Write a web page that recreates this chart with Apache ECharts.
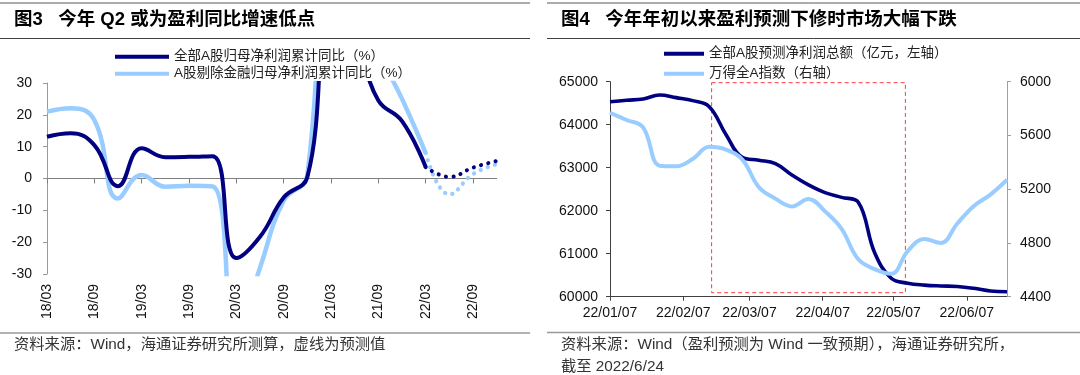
<!DOCTYPE html>
<html>
<head>
<meta charset="utf-8">
<script src="https://cdn.jsdelivr.net/npm/echarts@6/dist/echarts.min.js"></script>
<style>
html,body{margin:0;padding:0;background:#fff;}
#c{width:1080px;height:375px;}
</style>
</head>
<body>
<div id="c"></div>
<script>
// ---------- Figure 3 data (quarterly, cumulative YoY %) ----------
const quarters = ['18/03','18/06','18/09','18/12','19/03','19/06','19/09','19/12',
                  '20/03','20/06','20/09','20/12','21/03','21/06','21/09','21/12',
                  '22/03','22/06','22/09','22/12'];
const allAYoY      = [13.1,14.2,10.5,-2.4,9.5,6.7,6.8,7.0,-25.0,-18.3,-6.0,0.5,50,43,24.5,18,3.6,null,null,null];
const allAForecast = [null,null,null,null,null,null,null,null,null,null,null,null,null,null,null,null,3.6,0.5,3.4,5.5];
const exFinYoY      = [21.0,22.1,18.4,-6.3,1.1,-2.6,-2.3,-2.5,-50,-28,-7,1.0,110,60,40,25,8.0,null,null,null];
const exFinForecast = [null,null,null,null,null,null,null,null,null,null,null,null,null,null,null,null,8.0,-5.0,1.4,4.5];

// ---------- Figure 4 data (weekly) ----------
const weekDates = ['2022-01-07','2022-01-14','2022-01-21','2022-01-28','2022-02-04','2022-02-11','2022-02-18',
                   '2022-02-25','2022-03-04','2022-03-11','2022-03-18','2022-03-25','2022-04-01','2022-04-08',
                   '2022-04-15','2022-04-22','2022-04-29','2022-05-06','2022-05-13','2022-05-20','2022-05-27',
                   '2022-06-03','2022-06-10','2022-06-17','2022-06-24'];
const profitForecast = [64535,64570,64598,64690,64630,64560,64420,63780,63240,63175,63095,62830,62600,
                        62420,62310,62200,61020,60430,60315,60270,60250,60238,60195,60133,60115];
const windAIndex = [5769,5715,5660,5375,5370,5425,5515,5495,5420,5215,5130,5072,5128,
                    5035,4905,4680,4605,4570,4740,4830,4800,4945,5075,5160,5270];
const dateTickLabels = ['2022-01-07','2022-02-07','2022-03-07','2022-04-07','2022-05-07','2022-06-07'];
const dateStart = '2022-01-07';
const dateEnd = '2022-06-24';
const highlightWindow = ['2022-02-19','2022-05-12'];
const highlightRange = [64977, 60093];

// ---------- helpers ----------
const DAY = 86400000;
function ts(s){ const p = s.split('-').map(Number); return Date.UTC(p[0], p[1]-1, p[2]); }
const T0 = ts(dateStart);
function dayOf(s){ return Math.round((ts(s) - T0) / DAY); }
function pad(n){ return (n < 10 ? '0' : '') + n; }
function fmtDay(v){ const d = new Date(T0 + Math.round(v) * DAY); return String(d.getUTCFullYear()).slice(2) + '/' + pad(d.getUTCMonth()+1) + '/' + pad(d.getUTCDate()); }

const LAT = '"Liberation Sans", Arial, "Noto Sans CJK SC", sans-serif';
const DARK = '#000080';
const LIGHT = '#99CCFF';
const tickDays = dateTickLabels.map(dayOf);

const chart = echarts.init(document.getElementById('c'), null, {renderer: 'canvas'});

const option = {
  animation: false,
  backgroundColor: '#fff',
  textStyle: {fontFamily: LAT},
  legend: [
    {
      left: 110, top: 45, orient: 'vertical', itemGap: 3.5,
      itemWidth: 54, itemHeight: 4, icon: 'rect',
      textStyle: {fontSize: 13.5, color: '#222', fontFamily: LAT},
      data: ['全部A股归母净利润累计同比（%）', 'A股剔除金融归母净利润累计同比（%）']
    },
    {
      left: 659, top: 42, orient: 'vertical', itemGap: 6.5,
      itemWidth: 40, itemHeight: 4, icon: 'rect',
      textStyle: {fontSize: 13.5, color: '#222', fontFamily: LAT},
      data: ['全部A股预测净利润总额（亿元，左轴）', '万得全A指数（右轴）']
    }
  ],
  grid: [
    {left: 47, top: 83, width: 449.7, height: 191},
    {left: 610, top: 81.7, width: 397, height: 215}
  ],
  xAxis: [
    {
      gridIndex: 0, type: 'category', data: quarters, boundaryGap: false, position: 'bottom',
      axisLine: {show: false, onZero: false}, axisTick: {show: false},
      axisLabel: {interval: 1, rotate: 90, margin: 10, fontSize: 14, color: '#111'}
    },
    {
      gridIndex: 0, type: 'category', data: quarters, boundaryGap: false, position: 'bottom',
      axisLine: {show: true, onZero: true, onZeroAxisIndex: 0, lineStyle: {color: '#808080', width: 1}},
      axisTick: {show: true, interval: 1, length: 5, lineStyle: {color: '#808080'}},
      axisLabel: {show: false}
    },
    {
      gridIndex: 1, type: 'value', min: 0, max: dayOf(dateEnd),
      axisLine: {show: true, onZero: false, lineStyle: {color: '#404040'}},
      axisTick: {show: true, customValues: tickDays, length: 4, lineStyle: {color: '#404040'}},
      axisLabel: {customValues: tickDays, formatter: fmtDay, fontSize: 14, color: '#111', margin: 9},
      splitLine: {show: false}
    }
  ],
  yAxis: [
    {
      gridIndex: 0, type: 'value', min: -30, max: 30, interval: 10,
      axisLine: {show: true, onZero: false, lineStyle: {color: '#999'}},
      axisTick: {show: true, length: 4, lineStyle: {color: '#999'}},
      axisLabel: {fontSize: 14, color: '#111', margin: 15},
      splitLine: {show: false}
    },
    {
      gridIndex: 1, type: 'value', min: 60000, max: 65000, interval: 1000, position: 'left',
      axisLine: {show: true, onZero: false, lineStyle: {color: '#404040'}},
      axisTick: {show: true, length: 4, lineStyle: {color: '#404040'}},
      axisLabel: {fontSize: 14, color: '#111', margin: 12, formatter: v => String(v)},
      splitLine: {show: false}
    },
    {
      gridIndex: 1, type: 'value', min: 4400, max: 6000, interval: 400, position: 'right',
      axisLine: {show: true, onZero: false, lineStyle: {color: '#a0a0a0'}},
      axisTick: {show: true, length: 4, lineStyle: {color: '#a0a0a0'}},
      axisLabel: {fontSize: 14, color: '#111', margin: 13, formatter: v => String(v)},
      splitLine: {show: false}
    }
  ],
  series: [
    {
      name: 'A股剔除金融归母净利润累计同比（%）', type: 'line', xAxisIndex: 0, yAxisIndex: 0,
      data: exFinYoY, smooth: 0.45, symbol: 'none', color: LIGHT,
      lineStyle: {width: 4.5, color: LIGHT}, z: 2
    },
    {
      name: 'exFinForecast', type: 'line', xAxisIndex: 0, yAxisIndex: 0,
      data: exFinForecast, smooth: 0.45, symbol: 'none', color: LIGHT,
      lineStyle: {width: 4.2, color: LIGHT, type: [0.1, 7.4], cap: 'round'}, z: 2
    },
    {
      name: '全部A股归母净利润累计同比（%）', type: 'line', xAxisIndex: 0, yAxisIndex: 0,
      data: allAYoY, smooth: 0.45, symbol: 'none', color: DARK,
      lineStyle: {width: 4, color: DARK}, z: 3
    },
    {
      name: 'allAForecast', type: 'line', xAxisIndex: 0, yAxisIndex: 0,
      data: allAForecast, smooth: 0.45, symbol: 'none', color: DARK,
      lineStyle: {width: 4, color: DARK, type: [0.1, 7.4], cap: 'round'}, z: 3
    },
    {
      name: '全部A股预测净利润总额（亿元，左轴）', type: 'line', xAxisIndex: 2, yAxisIndex: 1,
      data: weekDates.map((d, i) => [dayOf(d), profitForecast[i]]), smooth: 0.4, symbol: 'none', color: DARK,
      lineStyle: {width: 3.6, color: DARK}, z: 3,
      markArea: {
        silent: true,
        itemStyle: {color: 'rgba(0,0,0,0)', borderColor: '#ff3b3b', borderWidth: 1, borderType: [4, 3]},
        data: [[
          {coord: [dayOf(highlightWindow[0]), highlightRange[0]]},
          {coord: [dayOf(highlightWindow[1]), highlightRange[1]]}
        ]]
      }
    },
    {
      name: '万得全A指数（右轴）', type: 'line', xAxisIndex: 2, yAxisIndex: 2,
      data: weekDates.map((d, i) => [dayOf(d), windAIndex[i]]), smooth: 0.4, symbol: 'none', color: LIGHT,
      lineStyle: {width: 4, color: LIGHT}, z: 4
    }
  ],
  graphic: [
    {type: 'line', shape: {x1: 0, y1: 3, x2: 530, y2: 3}, style: {stroke: '#595959', lineWidth: 1}},
    {type: 'line', shape: {x1: 547, y1: 3, x2: 1080, y2: 3}, style: {stroke: '#595959', lineWidth: 1}},
    {type: 'line', shape: {x1: 0, y1: 38.5, x2: 530, y2: 38.5}, style: {stroke: '#404040', lineWidth: 1}},
    {type: 'line', shape: {x1: 547, y1: 38.5, x2: 1080, y2: 38.5}, style: {stroke: '#404040', lineWidth: 1}},
    {type: 'line', shape: {x1: 0, y1: 333, x2: 530, y2: 333}, style: {stroke: '#999', lineWidth: 1.5}},
    {type: 'line', shape: {x1: 547, y1: 332.5, x2: 1080, y2: 332.5}, style: {stroke: '#999', lineWidth: 1.5}},
    {type: 'text', left: 14, top: 10.5, style: {text: '图3   今年 Q2 或为盈利同比增速低点', font: 'bold 18.5px "Liberation Sans", "Noto Sans CJK SC", sans-serif', fill: '#000'}},
    {type: 'text', left: 561, top: 10.5, style: {text: '图4   今年年初以来盈利预测下修时市场大幅下跌', font: 'bold 18.5px "Liberation Sans", "Noto Sans CJK SC", sans-serif', fill: '#000'}},
    {type: 'text', left: 14, top: 337.5, style: {text: '资料来源：Wind，海通证券研究所测算，虚线为预测值', font: '15.3px "Liberation Sans", "Noto Sans CJK SC", sans-serif', fill: '#333'}},
    {type: 'text', left: 561, top: 337.5, style: {text: '资料来源：Wind（盈利预测为 Wind 一致预期），海通证券研究所，', font: '15.3px "Liberation Sans", "Noto Sans CJK SC", sans-serif', fill: '#333'}},
    {type: 'text', left: 561, top: 359.5, style: {text: '截至 2022/6/24', font: '15.3px "Liberation Sans", "Noto Sans CJK SC", sans-serif', fill: '#333'}}
  ]
};
chart.setOption(option);
</script>
</body>
</html>
